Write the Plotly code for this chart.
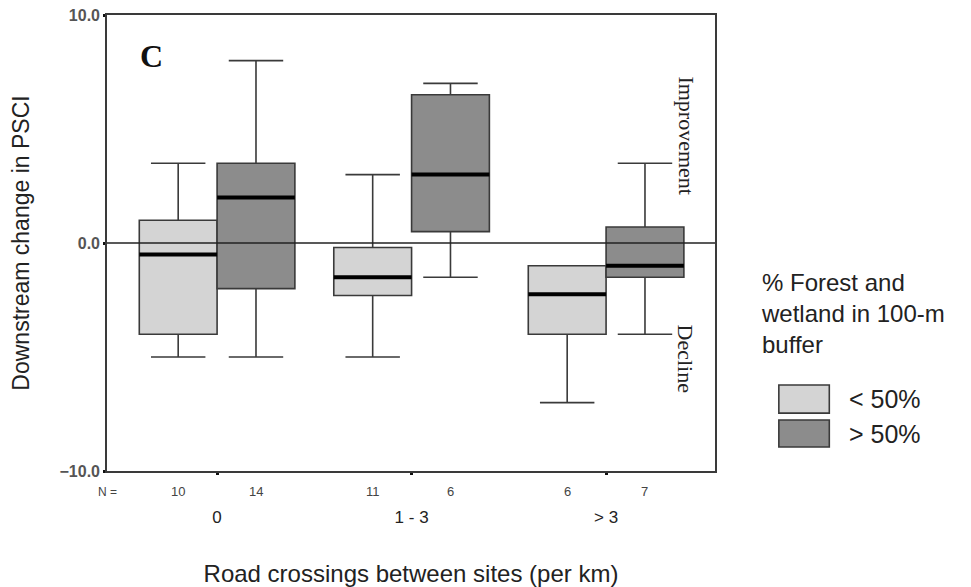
import plotly.graph_objects as go

# ---- data ----
categories = ["0", "1 - 3", "> 3"]
group_names = ["< 50%", "> 50%"]

low_q1 = [-4.0, -2.3, -4.0]
low_median = [-0.5, -1.5, -2.25]
low_q3 = [1.0, -0.2, -1.0]
low_lower = [-5.0, -5.0, -7.0]
low_upper = [3.5, 3.0, -1.0]
low_n = [10, 11, 6]

high_q1 = [-2.0, 0.5, -1.5]
high_median = [2.0, 3.0, -1.0]
high_q3 = [3.5, 6.5, 0.7]
high_lower = [-5.0, -1.5, -4.0]
high_upper = [8.0, 7.0, 3.5]
high_n = [14, 6, 7]

y_ticks = [-10, 0, 10]

# ---- style ----
LIGHT = "#d4d4d4"
DARK = "#8c8c8c"
EDGE = "#3a3a3a"
BOXGAP = 0.2
SANS = "Liberation Sans, Arial, sans-serif"
SERIF = "Liberation Serif, Times New Roman, serif"

fig = go.Figure()

series = [
    ("lt", group_names[0], LIGHT, low_q1, low_median, low_q3, low_lower, low_upper),
    ("gt", group_names[1], DARK, high_q1, high_median, high_q3, high_lower, high_upper),
]

for og, name, color, q1, med, q3, lo, hi in series:
    fig.add_trace(go.Box(
        x=categories, q1=q1, median=med, q3=q3,
        lowerfence=lo, upperfence=hi,
        name=name, offsetgroup=og,
        fillcolor=color, line=dict(color=EDGE, width=1.6),
        whiskerwidth=0.7, boxpoints=False, showlegend=False,
    ))

# thick median bars drawn as zero-height boxes in the same offset groups
for og, name, color, q1, med, q3, lo, hi in series:
    fig.add_trace(go.Box(
        x=categories, q1=med, median=med, q3=med,
        lowerfence=med, upperfence=med,
        name=name + " median", offsetgroup=og,
        fillcolor="rgba(0,0,0,0)", line=dict(color="#000000", width=4),
        whiskerwidth=0, boxpoints=False, showlegend=False, hoverinfo="skip",
    ))

# zero reference line above the boxes
fig.add_shape(type="line", xref="paper", x0=0, x1=1, yref="y", y0=0, y1=0,
              line=dict(color="#222222", width=1.6), layer="above")

annotations = []
# N counts under each box
half = (1 - BOXGAP) / 4
N_Y = -0.045
annotations.append(dict(x=0, xref="paper", y=N_Y, yref="paper", text="N =",
                        showarrow=False, xanchor="center", yanchor="middle",
                        font=dict(family=SANS, size=12, color="#444444")))
for i in range(len(categories)):
    for n, off in ((low_n[i], -half), (high_n[i], half)):
        annotations.append(dict(x=i + off, xref="x", y=N_Y, yref="paper", text=str(n),
                                showarrow=False, xanchor="center", yanchor="middle",
                                font=dict(family=SANS, size=13, color="#444444")))

# panel letter and direction labels
annotations.append(dict(x=0.074, y=0.91, xref="paper", yref="paper", text="<b>C</b>",
                        showarrow=False, xanchor="center", yanchor="middle",
                        font=dict(family=SERIF, size=32, color="#111111")))
annotations.append(dict(x=0.953, y=0.735, xref="paper", yref="paper", text="Improvement",
                        textangle=90, showarrow=False, xanchor="center", yanchor="middle",
                        font=dict(family=SERIF, size=22, color="#222222")))
annotations.append(dict(x=0.953, y=0.2456, xref="paper", yref="paper", text="Decline",
                        textangle=90, showarrow=False, xanchor="center", yanchor="middle",
                        font=dict(family=SERIF, size=22, color="#222222")))

# custom legend
annotations.append(dict(x=1.072, y=0.447, xref="paper", yref="paper",
                        text="% Forest and<br>wetland in 100-m<br>buffer",
                        align="left", xanchor="left", yanchor="top", showarrow=False,
                        font=dict(family=SANS, size=24, color="#222222")))
shapes_legend = [
    (LIGHT, 0.1886, 0.127, group_names[0], 0.158),
    (DARK, 0.1118, 0.0526, group_names[1], 0.082),
]
for color, y1, y0, label, ly in shapes_legend:
    fig.add_shape(type="rect", xref="paper", yref="paper", x0=1.105, x1=1.188, y0=y0, y1=y1,
                  fillcolor=color, line=dict(color=EDGE, width=1.6))
    annotations.append(dict(x=1.217, y=ly, xref="paper", yref="paper", text=label,
                            xanchor="left", yanchor="middle", showarrow=False,
                            font=dict(family=SANS, size=25, color="#222222")))

fig.update_layout(
    template="none",
    width=963, height=579,
    margin=dict(l=99, r=256, t=7, b=116),
    paper_bgcolor="white", plot_bgcolor="white",
    boxmode="group", boxgap=BOXGAP, boxgroupgap=0,
    showlegend=False,
    annotations=annotations,
    xaxis=dict(
        type="category", range=[-0.566, 2.56], automargin=False,
        showline=True, linecolor=EDGE, linewidth=1.6, mirror=True,
        showgrid=False, zeroline=False,
        ticks="outside", ticklen=2, tickwidth=3, tickcolor="#111111",
        ticklabelstandoff=28,
        tickfont=dict(family=SANS, size=17, color="#222222"),
        title=dict(text="Road crossings between sites (per km)", standoff=42,
                   font=dict(family=SANS, size=24, color="#222222")),
    ),
    yaxis=dict(
        range=[-10, 10], tickvals=y_ticks, tickformat=".1f", automargin=False,
        ticklabeloverflow="allow",
        showline=True, linecolor=EDGE, linewidth=1.6, mirror=True,
        showgrid=False, zeroline=False,
        ticks="outside", ticklen=2, tickwidth=3, tickcolor="#111111",
        tickfont=dict(family=SANS, size=16, color="#555555", weight="bold"),
        title=dict(text="Downstream change in PSCI", standoff=28,
                   font=dict(family=SANS, size=23, color="#222222")),
    ),
)

fig.write_html("out.html")
